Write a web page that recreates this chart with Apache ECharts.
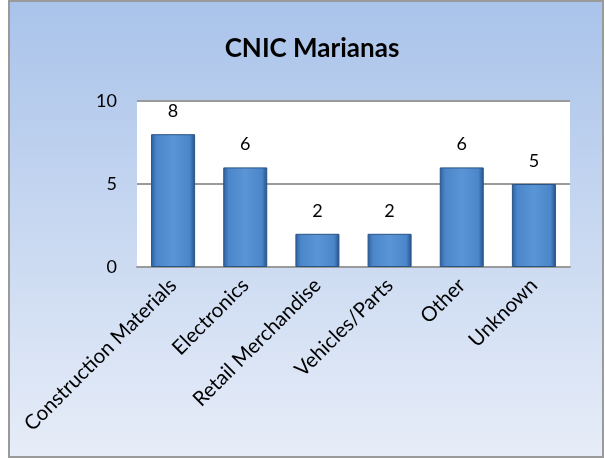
<!DOCTYPE html>
<html><head><meta charset="utf-8">
<script src="https://cdn.jsdelivr.net/npm/echarts@6/dist/echarts.min.js"></script>
<style>html,body{margin:0;padding:0;background:#fff}#c{width:605px;height:458px}</style>
</head><body><div id="c"></div>
<script>
const categories = ["Construction Materials","Electronics","Retail Merchandise","Vehicles/Parts","Other","Unknown"];
const values = [8,6,2,2,6,5];
const yTicks = [0,5,10];
const titleText = "CNIC Marianas";

const chart = echarts.init(document.getElementById('c'), null, {renderer:'canvas'});
const FONT = 'Lato, "Liberation Sans", sans-serif';
chart.setOption({
  animation:false,
  backgroundColor:'#ffffff',
  graphic:[{
    type:'rect', z:-10, silent:true,
    shape:{x:9,y:1,width:594,height:456},
    style:{
      fill:{type:'linear',x:0,y:0,x2:0,y2:1,colorStops:[{offset:0,color:'#a9c3ea'},{offset:1,color:'#e7edf8'}]},
      stroke:'#9a9a9a', lineWidth:2
    }
  }],
  title:{text:titleText,left:307,top:31,textAlign:'center',
    textStyle:{fontFamily:FONT,fontSize:26,fontWeight:'bold',color:'#000'}},
  grid:{left:137,right:35,top:101,bottom:191,show:true,backgroundColor:'#ffffff',borderWidth:0,containLabel:false},
  xAxis:{type:'category',data:categories,
    axisLine:{show:true,lineStyle:{color:'#9a9a9a',width:2}},
    axisTick:{show:false},
    axisLabel:{rotate:45,interval:0,margin:15,fontFamily:FONT,fontSize:20.5,color:'#000'}},
  yAxis:{type:'value',min:yTicks[0],max:yTicks[yTicks.length-1],interval:5,
    axisLine:{show:false},axisTick:{show:false},
    splitLine:{lineStyle:{color:'#9a9a9a',width:2}},
    axisLabel:{margin:20,fontFamily:FONT,fontSize:18,color:'#000'}},
  series:[{type:'bar',data:values,barWidth:'61%',
    itemStyle:{
      color:{type:'linear',x:0,y:0,x2:1,y2:0,colorStops:[
        {offset:0,color:'#2c5f9e'},{offset:0.12,color:'#4a86c9'},{offset:0.5,color:'#5a95d6'},{offset:0.88,color:'#4a86c9'},{offset:1,color:'#23508a'}]},
      borderColor:'#2a5386',borderWidth:1
    },
    label:{show:true,position:'top',distance:14,fontFamily:FONT,fontSize:18,color:'#000'}
  }]
});
</script></body></html>
